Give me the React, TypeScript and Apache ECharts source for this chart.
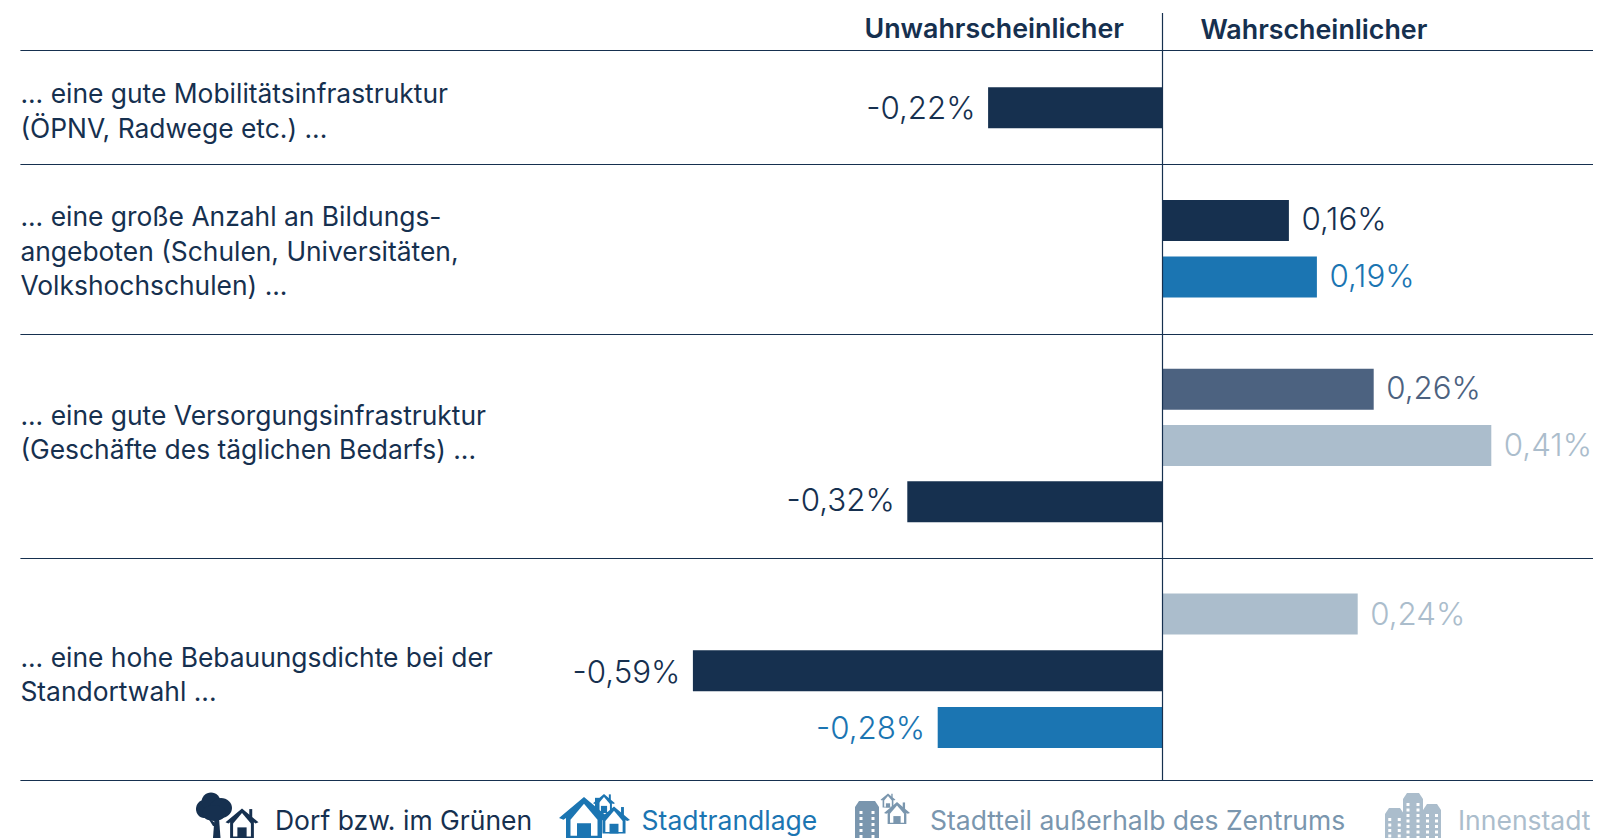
import React, { useEffect, useRef } from "react";
import * as echarts from "echarts";

const LOCATIONS = ["Dorf bzw. im Grünen", "Stadtrandlage", "Stadtteil außerhalb des Zentrums", "Innenstadt"];
const HEADERS = ["Unwahrscheinlicher", "Wahrscheinlicher"];
const ROW_LABELS = [
  "... eine gute Mobilitätsinfrastruktur\n(ÖPNV, Radwege etc.) ...",
  "... eine große Anzahl an Bildungs-\nangeboten (Schulen, Universitäten,\nVolkshochschulen) ...",
  "... eine gute Versorgungsinfrastruktur\n(Geschäfte des täglichen Bedarfs) ...",
  "... eine hohe Bebauungsdichte bei der\nStandortwahl ...",
];
const ROW1_LOCATIONS = [0];
const ROW1_VALUES = [-0.218];
const ROW2_LOCATIONS = [0, 1];
const ROW2_VALUES = [0.158, 0.193];
const ROW3_LOCATIONS = [2, 3, 0];
const ROW3_VALUES = [0.264, 0.411, -0.319];
const ROW4_LOCATIONS = [3, 0, 1];
const ROW4_VALUES = [0.244, -0.587, -0.281];

const BAR_COLORS = ["#16304f", "#1b75b2", "#4c6280", "#abbdcc"];
const LEGEND_COLORS = ["#16304f", "#1b75b2", "#7a96ae", "#abbdcc"];
const DARK = "#16304f";
const FONT = "Inter";

const ROW_LOCATIONS = [ROW1_LOCATIONS, ROW2_LOCATIONS, ROW3_LOCATIONS, ROW4_LOCATIONS];
const ROW_VALUES = [ROW1_VALUES, ROW2_VALUES, ROW3_VALUES, ROW4_VALUES];
const GRID_TOPS = [79.5, 192.4, 361.2, 585.5];
const GRID_PITCHES = [56.4, 56.4, 56.2, 56.8];
const LABEL_OFFSETS = [[0], [-1.5, -1.5], [-1, -0.5, -1.5], [0, 1.5, 0]];
const RULES_Y = [50.5, 164.5, 334.5, 558.5, 780.5];
const LABEL_CENTERS = [110.3, 250.5, 432.2, 673.8];
const ZERO_X = 1162.5;

const pct = (v: number) => v.toFixed(2).replace(".", ",") + "%";

function house(x: number, y: number, w: number, h: number, color: string, doorH = 0.48): any[] {
  // x,y = roof apex; w = eave width; h = total height
  const roofH = w * 0.42;
  const t = Math.max(1.6, w * 0.09);
  const inner = w * 0.72;
  return [
    { type: "polygon", shape: { points: [[x, y], [x + w / 2, y + roofH], [x + w / 2 - t, y + roofH + t * 0.4], [x + inner / 2, y + roofH], [x + inner / 2, y + h], [x - inner / 2, y + h], [x - inner / 2, y + roofH], [x - w / 2 + t, y + roofH + t * 0.4], [x - w / 2, y + roofH]] }, style: { fill: color } },
    { type: "polygon", shape: { points: [[x, y + t * 1.5], [x + inner / 2 - t, y + roofH + t * 0.4], [x + inner / 2 - t, y + h - t * 0.5], [x - inner / 2 + t, y + h - t * 0.5], [x - inner / 2 + t, y + roofH + t * 0.4]] }, style: { fill: "#fff" } },
    { type: "rect", shape: { x: x - w * 0.14, y: y + h - h * doorH * 0.75, width: w * 0.28, height: h * doorH * 0.75 }, style: { fill: color } },
    { type: "rect", shape: { x: x + w * 0.22, y: y + h * 0.02, width: w * 0.09, height: roofH * 0.6 }, style: { fill: color } },
  ];
}

function tower(x0: number, x1: number, top: number, bottom: number, color: string, cols: number, rowsStep: number): any[] {
  const c = 4;
  const els: any[] = [
    { type: "polygon", shape: { points: [[x0, bottom], [x0, top + c * 1.5], [x0 + c, top], [x1 - c, top], [x1, top + c * 1.5], [x1, bottom]] }, style: { fill: color } },
  ];
  const w = x1 - x0;
  const win = 3;
  for (let i = 0; i < cols; i++) {
    const wx = x0 + (w * (i + 0.5)) / cols - win / 2;
    for (let wy = top + 10; wy < bottom - 1; wy += rowsStep) {
      els.push({ type: "rect", shape: { x: wx, y: wy, width: win, height: 3 }, style: { fill: "#fff" } });
    }
  }
  return els;
}

function legendIcons(): any[] {
  const [c0, c1, c2, c3] = LEGEND_COLORS;
  return [
    // Dorf: tree and house
    { type: "polygon", shape: { points: [[213, 838], [214.5, 818], [219, 818], [220.5, 838]] }, style: { fill: c0 } },
    { type: "polygon", shape: { points: [[208, 818], [214, 822], [216, 826], [213, 826]] }, style: { fill: c0 } },
    { type: "ellipse", shape: { cx: 204, cy: 809, rx: 8, ry: 9 }, style: { fill: c0 } },
    { type: "ellipse", shape: { cx: 211, cy: 802, rx: 9.5, ry: 9.5 }, style: { fill: c0 } },
    { type: "ellipse", shape: { cx: 221, cy: 808, rx: 11, ry: 10 }, style: { fill: c0 } },
    { type: "ellipse", shape: { cx: 214, cy: 813, rx: 12, ry: 8 }, style: { fill: c0 } },
    { type: "polygon", shape: { points: [[225, 826], [242, 807], [259, 826], [255, 830], [255, 838], [228, 838], [228, 830]] }, style: { fill: "#fff" } },
    ...house(242, 808.5, 33, 29.5, c0),
    // Stadtrand: three houses
    ...house(604, 794, 22, 19, c1, 0.5),
    ...house(584, 797, 50, 41, c1),
    ...house(614, 806.5, 32, 27, c1),
    // Stadtteil: tower and two houses
    ...tower(855, 879, 801, 838, c2, 2, 6),
    ...house(888, 793.5, 15, 14, c2, 0.4),
    ...house(897, 802, 26, 22, c2),
    // Innenstadt: three towers
    ...tower(1385, 1404, 808, 838, c3, 2, 5.5),
    ...tower(1403, 1423, 793, 838, c3, 2, 5.5),
    ...tower(1423, 1441, 804, 838, c3, 2, 5.5),
  ];
}

export default function App() {
  const ref = useRef<HTMLDivElement>(null);
  useEffect(() => {
    const chart = echarts.init(ref.current!, undefined, { renderer: "svg" });
    const grid = ROW_VALUES.map((vals, i) => ({
      left: 362.5,
      width: 1200,
      top: GRID_TOPS[i],
      height: GRID_PITCHES[i] * vals.length,
      containLabel: false,
    }));
    const xAxis = ROW_VALUES.map((_, i) => ({
      type: "value",
      gridIndex: i,
      min: -1,
      max: 0.5,
      show: false,
    }));
    const yAxis = ROW_LOCATIONS.map((locs, i) => ({
      type: "category",
      gridIndex: i,
      inverse: true,
      data: locs.map((l) => LOCATIONS[l]),
      show: false,
    }));
    const series = ROW_VALUES.map((vals, i) => ({
      type: "bar",
      xAxisIndex: i,
      yAxisIndex: i,
      barWidth: 41,
      silent: true,
      data: vals.map((v, j) => {
        const color = BAR_COLORS[ROW_LOCATIONS[i][j]];
        return {
          value: v,
          itemStyle: { color },
          label: {
            show: true,
            position: v < 0 ? "left" : "right",
            distance: 12.5,
            offset: [0, LABEL_OFFSETS[i][j]],
            color,
            fontFamily: FONT,
            fontSize: 31.3,
            fontWeight: 300,
            formatter: () => pct(v),
          },
        };
      }),
    }));
    const rules = RULES_Y.map((y) => ({
      type: "line",
      z: 10,
      shape: { x1: 20.4, y1: y, x2: 1593, y2: y },
      style: { stroke: DARK, lineWidth: 1.2 },
    }));
    const rowTexts = ROW_LABELS.map((text, i) => ({
      type: "text",
      x: 20.4,
      y: LABEL_CENTERS[i],
      style: { text, fill: DARK, fontFamily: FONT, fontSize: 26.4, lineHeight: 34.5, align: "left", verticalAlign: "middle" },
    }));
    const LEGEND_X = [275, 641.6, 930, 1458];
    const legendTexts = LOCATIONS.map((text, i) => ({
      type: "text",
      x: LEGEND_X[i],
      y: 819.5,
      style: { text, fill: LEGEND_COLORS[i], fontFamily: FONT, fontSize: 26.5, fontWeight: 400, align: "left", verticalAlign: "middle" },
    }));
    chart.setOption({
      animation: false,
      backgroundColor: "#fff",
      grid,
      xAxis,
      yAxis,
      series,
      graphic: [
        ...rules,
        { type: "line", z: 10, shape: { x1: ZERO_X, y1: 13, x2: ZERO_X, y2: 780.5 }, style: { stroke: DARK, lineWidth: 1.2 } },
        { type: "text", x: 1124, y: 28, style: { text: HEADERS[0], fill: DARK, fontFamily: FONT, fontSize: 26.8, fontWeight: 600, align: "right", verticalAlign: "middle" } },
        { type: "text", x: 1200.5, y: 29, style: { text: HEADERS[1], fill: DARK, fontFamily: FONT, fontSize: 26.8, fontWeight: 600, align: "left", verticalAlign: "middle" } },
        ...rowTexts,
        ...legendTexts,
        { type: "group", children: legendIcons() },
      ],
    });
    return () => chart.dispose();
  }, []);
  return <div ref={ref} style={{ position: "fixed", left: 0, top: 0, width: 1602, height: 838, background: "#fff" }} />;
}
